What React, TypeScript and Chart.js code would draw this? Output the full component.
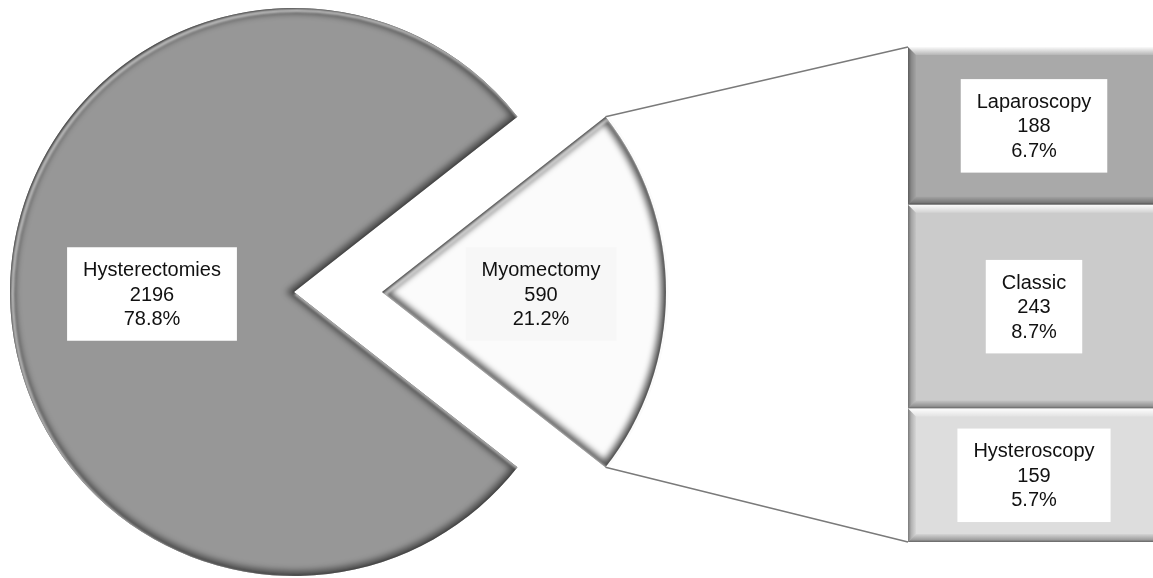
import React, { useEffect, useRef } from 'react';
import { Chart, registerables } from 'chart.js';

Chart.register(...registerables);

// ---- data ----
const pieCategories = ['Hysterectomies', 'Myomectomy'];
const pieValues = [2196, 590];
const barCategories = ['Laparoscopy', 'Classic', 'Hysteroscopy'];
const barValues = [188, 243, 159];

// ---- styles / layout ----
const pieColors = ['#979797', '#fbfbfb'];
const pieLabelBg = ['#ffffff', '#f7f7f7'];
const pieLabelRadius = [0.5, 0.56];
const pieShadow = [0.5, 0.65];
const barColors = ['#a9a9a9', '#cbcbcb', '#dddddd'];

const W = 1153;
const H = 578;
const PIE_CX = 294;
const PIE_CY = 292;
const PIE_R = 284;
const EXPLODE = 88;
const BAR_LEFT = 908;
const BAR_TOP = 47;
const BAR_W = 256;
const BAR_H = 495;
const FONT = '20px "Liberation Sans", Arial, Helvetica, sans-serif';
const LINE_H = 24.5;

const grandTotal = pieValues.reduce((a, b) => a + b, 0);
const pct = (v: number) => ((v / grandTotal) * 100).toFixed(1) + '%';

function drawLabel(ctx: CanvasRenderingContext2D, cx: number, cy: number, lines: string[], bg: string) {
  ctx.save();
  ctx.font = FONT;
  const tw = Math.max(...lines.map((l) => ctx.measureText(l).width));
  const bw = tw + 32;
  const bh = lines.length * LINE_H + 20;
  ctx.fillStyle = bg;
  ctx.fillRect(cx - bw / 2, cy - bh / 2, bw, bh);
  ctx.fillStyle = '#111111';
  ctx.textAlign = 'center';
  ctx.textBaseline = 'middle';
  lines.forEach((l, i) => {
    ctx.fillText(l, cx, cy + (i - (lines.length - 1) / 2) * LINE_H + 1);
  });
  ctx.restore();
}

export default function App() {
  const pieRef = useRef<HTMLCanvasElement>(null);
  const barRef = useRef<HTMLCanvasElement>(null);

  useEffect(() => {
    const barTotal = barValues.reduce((a, b) => a + b, 0);

    const barBevel = {
      id: 'barBevel',
      afterDatasetsDraw(chart: any) {
        const ctx: CanvasRenderingContext2D = chart.ctx;
        chart.data.datasets.forEach((ds: any, di: number) => {
          const meta = chart.getDatasetMeta(di);
          meta.data.forEach((el: any) => {
            const { x, y, base, width } = el.getProps(['x', 'y', 'base', 'width'], true);
            const left = x - width / 2;
            const right = x + width / 2;
            const top = Math.min(y, base);
            const bottom = Math.max(y, base);
            const b = 8;
            ctx.save();
            // top highlight
            let g = ctx.createLinearGradient(0, top, 0, top + b);
            g.addColorStop(0, 'rgba(255,255,255,0.95)');
            g.addColorStop(1, 'rgba(255,255,255,0.15)');
            ctx.fillStyle = g;
            ctx.beginPath();
            ctx.moveTo(left, top);
            ctx.lineTo(right, top);
            ctx.lineTo(right - b, top + b);
            ctx.lineTo(left + b, top + b);
            ctx.closePath();
            ctx.fill();
            // bottom shadow
            g = ctx.createLinearGradient(0, bottom, 0, bottom - b);
            g.addColorStop(0, 'rgba(0,0,0,0.55)');
            g.addColorStop(0.3, 'rgba(0,0,0,0.28)');
            g.addColorStop(1, 'rgba(0,0,0,0.04)');
            ctx.fillStyle = g;
            ctx.beginPath();
            ctx.moveTo(left, bottom);
            ctx.lineTo(right, bottom);
            ctx.lineTo(right - b, bottom - b);
            ctx.lineTo(left + b, bottom - b);
            ctx.closePath();
            ctx.fill();
            // left side
            g = ctx.createLinearGradient(left, 0, left + b, 0);
            g.addColorStop(0, 'rgba(0,0,0,0.45)');
            g.addColorStop(0.4, 'rgba(0,0,0,0.2)');
            g.addColorStop(1, 'rgba(0,0,0,0.03)');
            ctx.fillStyle = g;
            ctx.beginPath();
            ctx.moveTo(left, top);
            ctx.lineTo(left + b, top + b);
            ctx.lineTo(left + b, bottom - b);
            ctx.lineTo(left, bottom);
            ctx.closePath();
            ctx.fill();
            // right side
            g = ctx.createLinearGradient(right, 0, right - b, 0);
            g.addColorStop(0, 'rgba(0,0,0,0.35)');
            g.addColorStop(1, 'rgba(0,0,0,0.03)');
            ctx.fillStyle = g;
            ctx.beginPath();
            ctx.moveTo(right, top);
            ctx.lineTo(right - b, top + b);
            ctx.lineTo(right - b, bottom - b);
            ctx.lineTo(right, bottom);
            ctx.closePath();
            ctx.fill();
            ctx.restore();
            // label
            drawLabel(ctx, x - 2, (top + bottom) / 2, [barCategories[di], String(barValues[di]), pct(barValues[di])], '#ffffff');
          });
        });
      },
    };

    const bar = new Chart(barRef.current!, {
      type: 'bar',
      data: {
        labels: ['Myomectomy'],
        datasets: barCategories.map((c, i) => ({
          label: c,
          data: [barValues[i]],
          backgroundColor: barColors[i],
          borderWidth: 0,
          barPercentage: 1,
          categoryPercentage: 1,
        })),
      },
      options: {
        responsive: false,
        animation: false,
        events: [],
        layout: { padding: 0 },
        scales: {
          x: { display: false, stacked: true },
          y: { display: false, stacked: true, reverse: true, min: 0, max: barTotal },
        },
        plugins: { legend: { display: false }, tooltip: { enabled: false } },
      },
      plugins: [barBevel],
    } as any);

    const myoShare = pieValues[1] / grandTotal;

    const pieDeco = {
      id: 'pieDeco',
      afterDatasetsDraw(chart: any) {
        const ctx: CanvasRenderingContext2D = chart.ctx;
        const meta = chart.getDatasetMeta(0);
        const geo: any[] = [];
        meta.data.forEach((el: any, i: number) => {
          const { x, y, startAngle, endAngle, outerRadius } = el.getProps(
            ['x', 'y', 'startAngle', 'endAngle', 'outerRadius'],
            true
          );
          const mid = (startAngle + endAngle) / 2;
          const t = (el.options.offset || 0) / 4;
          const cx = x + Math.cos(mid) * t;
          const cy = y + Math.sin(mid) * t;
          geo.push({ cx, cy, startAngle, endAngle, r: outerRadius, mid });
          // bevel (inner shadow + highlight)
          ctx.save();
          const path = new Path2D();
          path.moveTo(cx, cy);
          path.arc(cx, cy, outerRadius, startAngle, endAngle);
          path.closePath();
          ctx.clip(path);
          ctx.filter = 'blur(3px)';
          ctx.lineWidth = 10;
          ctx.strokeStyle = `rgba(0,0,0,${pieShadow[i]})`;
          ctx.stroke(path);
          ctx.filter = 'blur(1px)';
          ctx.lineWidth = 1.5;
          ctx.strokeStyle = 'rgba(40,40,40,0.6)';
          ctx.stroke(path);
          ctx.translate(2.5, 2.5);
          ctx.lineWidth = 3;
          ctx.strokeStyle = 'rgba(255,255,255,0.6)';
          ctx.stroke(path);
          ctx.restore();
        });
        // labels
        geo.forEach((g, i) => {
          const lx = g.cx + Math.cos(g.mid) * g.r * pieLabelRadius[i];
          const ly = g.cy + Math.sin(g.mid) * g.r * pieLabelRadius[i];
          drawLabel(ctx, lx, ly + 2, [pieCategories[i], String(pieValues[i]), pct(pieValues[i])], pieLabelBg[i]);
        });
        // connectors from exploded slice to bar
        const g = geo[1];
        const p1 = { x: g.cx + Math.cos(g.startAngle) * g.r, y: g.cy + Math.sin(g.startAngle) * g.r };
        const p2 = { x: g.cx + Math.cos(g.endAngle) * g.r, y: g.cy + Math.sin(g.endAngle) * g.r };
        const topP = p1.y < p2.y ? p1 : p2;
        const botP = p1.y < p2.y ? p2 : p1;
        let bLeft = Infinity;
        let bTop = Infinity;
        let bBottom = -Infinity;
        bar.data.datasets.forEach((_: any, di: number) => {
          bar.getDatasetMeta(di).data.forEach((el: any) => {
            const { x, y, base, width } = el.getProps(['x', 'y', 'base', 'width'], true);
            bLeft = Math.min(bLeft, x - width / 2);
            bTop = Math.min(bTop, Math.min(y, base));
            bBottom = Math.max(bBottom, Math.max(y, base));
          });
        });
        ctx.save();
        ctx.strokeStyle = '#7a7a7a';
        ctx.lineWidth = 1.5;
        ctx.beginPath();
        ctx.moveTo(topP.x, topP.y);
        ctx.lineTo(BAR_LEFT + bLeft, BAR_TOP + bTop);
        ctx.moveTo(botP.x, botP.y);
        ctx.lineTo(BAR_LEFT + bLeft, BAR_TOP + bBottom);
        ctx.stroke();
        ctx.restore();
      },
    };

    const pie = new Chart(pieRef.current!, {
      type: 'pie',
      data: {
        labels: pieCategories,
        datasets: [
          {
            data: pieValues,
            backgroundColor: pieColors,
            borderWidth: 0,
            offset: [0, EXPLODE * 4],
          },
        ],
      },
      options: {
        responsive: false,
        animation: false,
        events: [],
        radius: PIE_R,
        rotation: 90 + myoShare * 180,
        layout: {
          padding: { left: 0, right: W - 2 * PIE_CX, top: 2 * PIE_CY - H, bottom: 0 },
        },
        plugins: { legend: { display: false }, tooltip: { enabled: false } },
      },
      plugins: [pieDeco],
    } as any);

    return () => {
      pie.destroy();
      bar.destroy();
    };
  }, []);

  return (
    <div
      style={{
        position: 'fixed',
        left: 0,
        top: 0,
        width: W,
        height: H,
        overflow: 'hidden',
        background: '#ffffff',
      }}
    >
      <canvas ref={pieRef} width={W} height={H} style={{ position: 'absolute', left: 0, top: 0 }} />
      <canvas
        ref={barRef}
        width={BAR_W}
        height={BAR_H}
        style={{ position: 'absolute', left: BAR_LEFT, top: BAR_TOP }}
      />
    </div>
  );
}
